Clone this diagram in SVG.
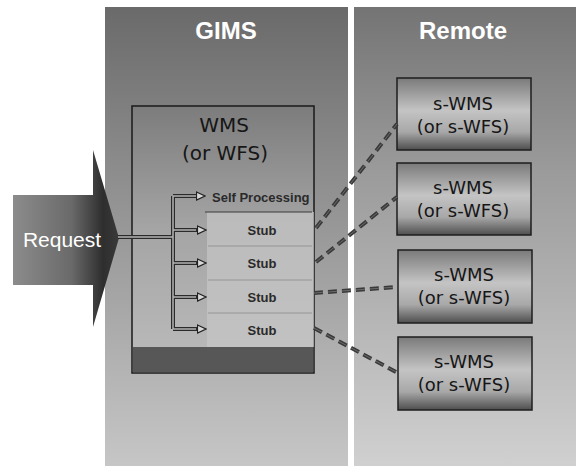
<svg xmlns="http://www.w3.org/2000/svg" width="576" height="466" viewBox="0 0 576 466">
  <defs>
    <linearGradient id="panelGrad" x1="0" y1="0" x2="0" y2="1">
      <stop offset="0" stop-color="#6a6a6a"/>
      <stop offset="0.35" stop-color="#8c8c8c"/>
      <stop offset="1" stop-color="#c6c6c6"/>
    </linearGradient>
    <linearGradient id="remoteGrad" x1="0" y1="0" x2="0" y2="1">
      <stop offset="0" stop-color="#747474"/>
      <stop offset="0.35" stop-color="#9a9a9a"/>
      <stop offset="1" stop-color="#d0d0d0"/>
    </linearGradient>
    <linearGradient id="wmsGrad" x1="0" y1="0" x2="0" y2="1">
      <stop offset="0" stop-color="#7c7c7c"/>
      <stop offset="0.45" stop-color="#a4a4a4"/>
      <stop offset="1" stop-color="#bcbcbc"/>
    </linearGradient>
    <linearGradient id="boxGrad" x1="0" y1="0" x2="0" y2="1">
      <stop offset="0" stop-color="#7a7a7a"/>
      <stop offset="0.45" stop-color="#c4c4c4"/>
      <stop offset="0.75" stop-color="#a8a8a8"/>
      <stop offset="1" stop-color="#4e4e4e"/>
    </linearGradient>
    <linearGradient id="reqGrad" x1="0" y1="0" x2="1" y2="0">
      <stop offset="0" stop-color="#8c8c8c"/>
      <stop offset="0.55" stop-color="#6a6a6a"/>
      <stop offset="0.85" stop-color="#2e2e2e"/>
      <stop offset="1" stop-color="#3a3a3a"/>
    </linearGradient>
    <marker id="head" markerUnits="userSpaceOnUse" markerWidth="10" markerHeight="10" refX="0" refY="5" orient="auto">
      <path d="M0.5,1 L9,5 L0.5,9 Z" fill="#d8d8d8" stroke="#222" stroke-width="1.2"/>
    </marker>
  </defs>
  <style>
    .hdr { font-family: "Liberation Sans", Arial, sans-serif; font-weight: bold; font-size: 24px; fill: #ffffff; text-anchor: middle; }
    .big { font-family: "DejaVu Sans", Verdana, sans-serif; font-size: 20px; fill: #161616; text-anchor: middle; }
    .svc { font-family: "DejaVu Sans", Verdana, sans-serif; font-size: 18px; fill: #161616; text-anchor: middle; }
    .stub { font-family: "Liberation Sans", Arial, sans-serif; font-weight: bold; font-size: 13px; fill: #2a2a2a; }
    .mid { text-anchor: middle; }
    .pipe { fill: none; stroke: #2a2a2a; stroke-width: 4; }
    .pipeIn { fill: none; stroke: #b4b4b4; stroke-width: 1.5; }
    .dash { fill: none; stroke: #3a3a3a; stroke-width: 4; stroke-dasharray: 9 5; }
    .dashIn { fill: none; stroke: #6a6a6a; stroke-width: 1; stroke-dasharray: 9 5; }
    .svcBox { fill: url(#boxGrad); stroke: #1e1e1e; stroke-width: 1.5; }
  </style>

  <!-- background panels -->
  <g id="gims-panel">
    <rect x="105" y="7" width="243" height="459" fill="url(#panelGrad)"/>
    <text class="hdr" x="226" y="39">GIMS</text>
  </g>
  <g id="remote-panel">
    <rect x="354" y="7" width="222" height="459" fill="url(#remoteGrad)"/>
    <text class="hdr" x="463" y="39">Remote</text>
  </g>

  <!-- request arrow -->
  <g id="request">
    <path d="M13,195 H93 V150 L119,238 L93,327 V285 H13 Z" fill="url(#reqGrad)"/>
    <text x="62" y="247" font-family="Liberation Sans, Arial, sans-serif" font-size="21" fill="#ffffff" text-anchor="middle">Request</text>
  </g>

  <!-- WMS server box -->
  <g id="wms">
    <rect x="132" y="106" width="182" height="267" fill="url(#wmsGrad)" stroke="#1a1a1a" stroke-width="1.5"/>
    <rect x="207" y="212" width="107" height="135" fill="#c6c6c6" opacity="0.7"/>
    <rect x="133" y="347" width="180" height="25" fill="#575757"/>
    <text class="big" x="224" y="132">WMS</text>
    <text class="big" x="225" y="160">(or WFS)</text>
  </g>

  <g id="self-processing">
    <text class="stub" x="212" y="202">Self Processing</text>
    <line x1="205" y1="212" x2="312" y2="212" stroke="#3a3a3a" stroke-width="1"/>
  </g>
  <g id="stub-1">
    <text class="stub mid" x="262" y="235">Stub</text>
    <line x1="208" y1="246" x2="312" y2="246" stroke="#8a8a8a" stroke-width="0.8"/>
  </g>
  <g id="stub-2">
    <text class="stub mid" x="262" y="268">Stub</text>
    <line x1="208" y1="280" x2="312" y2="280" stroke="#8a8a8a" stroke-width="0.8"/>
  </g>
  <g id="stub-3">
    <text class="stub mid" x="262" y="302">Stub</text>
    <line x1="208" y1="313" x2="312" y2="313" stroke="#8a8a8a" stroke-width="0.8"/>
  </g>
  <g id="stub-4">
    <text class="stub mid" x="262" y="335">Stub</text>
  </g>

  <!-- remote services -->
  <g id="remote-1">
    <rect class="svcBox" x="397" y="78" width="134" height="72"/>
    <text class="svc" x="463" y="110">s-WMS</text>
    <text class="svc" x="463" y="133">(or s-WFS)</text>
  </g>
  <g id="remote-2">
    <rect class="svcBox" x="397" y="163" width="134" height="72"/>
    <text class="svc" x="463" y="194">s-WMS</text>
    <text class="svc" x="463" y="217">(or s-WFS)</text>
  </g>
  <g id="remote-3">
    <rect class="svcBox" x="398" y="250" width="134" height="73"/>
    <text class="svc" x="464" y="281">s-WMS</text>
    <text class="svc" x="464" y="304">(or s-WFS)</text>
  </g>
  <g id="remote-4">
    <rect class="svcBox" x="398" y="337" width="134" height="73"/>
    <text class="svc" x="464" y="368">s-WMS</text>
    <text class="svc" x="464" y="391">(or s-WFS)</text>
  </g>

  <!-- connectors -->
  <g id="connectors">
    <!-- request fan-out -->
    <path class="pipe" d="M118,237 H173 M173,196 V329"/>
    <path class="pipe" d="M173,196 H197 M173,230 H197 M173,263 H197 M173,297 H197 M173,329 H197"/>
    <path class="pipeIn" d="M118,237 H173 M173,196 V329"/>
    <path class="pipeIn" d="M173,196 H196 M173,230 H196 M173,263 H196 M173,297 H196 M173,329 H196"/>
    <line x1="173" y1="196" x2="196" y2="196" stroke="none" marker-end="url(#head)"/>
    <line x1="173" y1="230" x2="197" y2="230" stroke="none" marker-end="url(#head)"/>
    <line x1="173" y1="263" x2="197" y2="263" stroke="none" marker-end="url(#head)"/>
    <line x1="173" y1="297" x2="197" y2="297" stroke="none" marker-end="url(#head)"/>
    <line x1="173" y1="329" x2="197" y2="329" stroke="none" marker-end="url(#head)"/>

    <!-- stubs to remote services -->
    <path class="dash" d="M316,228 L397,124"/>
    <path class="dash" d="M316,262 L397,197"/>
    <path class="dash" d="M314,293 L397,287"/>
    <path class="dash" d="M314,328 L398,373"/>
    <path class="dashIn" d="M316,228 L397,124"/>
    <path class="dashIn" d="M316,262 L397,197"/>
    <path class="dashIn" d="M314,293 L397,287"/>
    <path class="dashIn" d="M314,328 L398,373"/>
  </g>
</svg>
